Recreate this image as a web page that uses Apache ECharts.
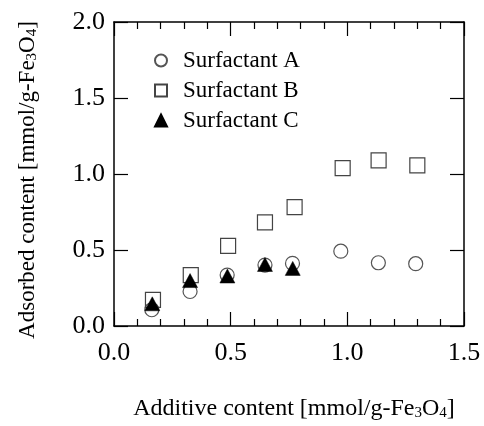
<!DOCTYPE html>
<html><head><meta charset="utf-8">
<script src="https://cdn.jsdelivr.net/npm/echarts@6/dist/echarts.min.js"></script>
<style>html,body{margin:0;padding:0;background:#fff}#c{width:484px;height:426px}</style>
</head><body><div id="c"></div>
<script>
const seriesNames = ['Surfactant A', 'Surfactant B', 'Surfactant C'];
const xA = [0.162, 0.326, 0.485, 0.647, 0.765, 0.972, 1.133, 1.293];
const yA = [0.107, 0.227, 0.335, 0.401, 0.412, 0.492, 0.416, 0.410];
const xB = [0.167, 0.329, 0.489, 0.647, 0.774, 0.980, 1.134, 1.300];
const yB = [0.172, 0.335, 0.527, 0.682, 0.782, 1.039, 1.089, 1.057];
const xC = [0.164, 0.326, 0.486, 0.647, 0.766];
const yC = [0.146, 0.299, 0.329, 0.405, 0.379];
const xTicks = [0.0, 0.5, 1.0, 1.5];
const yTicks = [0.0, 0.5, 1.0, 1.5, 2.0];

const F = '"Liberation Serif", "Times New Roman", serif';
const zip = (xs, ys) => xs.map((x, i) => [x, ys[i]]);
const chart = echarts.init(document.getElementById('c'));
const subRich = {
  sub: { fontSize: 15, fontFamily: F, color: '#000', padding: [9, 0, 0, 0] }
};
const mkAxis = () => ({
  type: 'value', min: 0,
  splitLine: { show: false },
  axisLine: { show: true, onZero: false, lineStyle: { color: '#000', width: 1.5 } },
  axisTick: { show: true, inside: true, length: 14, lineStyle: { color: '#000', width: 1.2 } }
});
const minor = () => ({ show: true, splitNumber: 5, length: 7, lineStyle: { color: '#000', width: 1.2 } });
chart.setOption({
  animation: false,
  backgroundColor: '#fff',
  grid: { left: 114, right: 20, top: 22, bottom: 98, containLabel: false },
  legend: {
    orient: 'vertical', left: 149, top: 44, itemWidth: 12, itemHeight: 12, itemGap: 7,
    data: seriesNames,
    textStyle: { fontFamily: F, fontSize: 23, color: '#000', padding: [0, 0, 0, 11] }
  },
  xAxis: [
    Object.assign(mkAxis(), {
      max: 1.5, interval: 0.5, position: 'bottom',
      minorTick: minor(),
      axisLabel: { fontFamily: F, fontSize: 26, color: '#000', margin: 14,
        formatter: v => xTicks.indexOf(v) >= 0 ? v.toFixed(1) : '' },
      name: 'Additive content [mmol/g-Fe{sub|3}O{sub|4}]',
      nameLocation: 'middle', nameGap: 71,
      nameTextStyle: { fontFamily: F, fontSize: 24, color: '#000', padding: [0, 0, 0, 10], rich: subRich }
    }),
    Object.assign(mkAxis(), {
      max: 1.5, interval: 0.5, position: 'top',
      minorTick: minor(),
      axisLabel: { show: false }
    })
  ],
  yAxis: [
    Object.assign(mkAxis(), {
      max: 2.0, interval: 0.5, position: 'left',
      axisLabel: { fontFamily: F, fontSize: 26, color: '#000', margin: 9,
        formatter: v => yTicks.indexOf(v) >= 0 ? v.toFixed(1) : '' },
      name: 'Adsorbed content [mmol/g-Fe{sub|3}O{sub|4}]',
      nameLocation: 'middle', nameGap: 74, nameRotate: 90,
      nameTextStyle: { fontFamily: F, fontSize: 23, color: '#000', padding: [0, 12, 0, 0], rich: subRich }
    }),
    Object.assign(mkAxis(), {
      max: 2.0, interval: 0.5, position: 'right',
      axisLabel: { show: false }
    })
  ],
  series: [
    { name: seriesNames[0], type: 'scatter', symbol: 'circle', symbolSize: 14,
      data: zip(xA, yA),
      itemStyle: { opacity: 1, color: 'rgba(255,255,255,0)', borderColor: '#555', borderWidth: 1.2 } },
    { name: seriesNames[1], type: 'scatter', symbol: 'rect', symbolSize: 15,
      data: zip(xB, yB),
      itemStyle: { opacity: 1, color: 'rgba(255,255,255,0)', borderColor: '#444', borderWidth: 1.2 } },
    { name: seriesNames[2], type: 'scatter', symbol: 'triangle', symbolSize: [15, 14],
      data: zip(xC, yC),
      itemStyle: { opacity: 1, color: '#000', borderColor: '#000', borderWidth: 0.5 } }
  ]
});
</script></body></html>
